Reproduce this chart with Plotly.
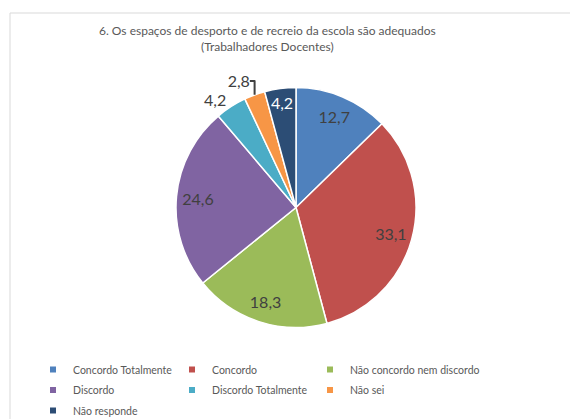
import plotly.graph_objects as go

categories = ["Concordo Totalmente", "Concordo", "Não concordo nem discordo",
              "Discordo", "Discordo Totalmente", "Não sei", "Não responde"]
values = [12.7, 33.1, 18.3, 24.6, 4.2, 2.8, 4.2]
colors = ["#4F81BD", "#C0504D", "#9BBB59", "#8064A2", "#4BACC6", "#F79646", "#2C4D75"]
text_positions = ["inside", "inside", "inside", "inside", "outside", "outside", "inside"]
text_colors = ["#404040", "#404040", "#404040", "#404040", "#404040", "#404040", "#FFFFFF"]

# page body keeps an 8px default margin, so the figure is drawn 8px in from the corner
OFF = 8
W, H = 578 - OFF, 419 - OFF
ML, MR = 27, 98
PW = W - ML - MR

def px_x(x):
    return (x - OFF - ML) / PW

def px_y(y):
    return (H - (y - OFF)) / H

pie_domain = dict(x=[px_x(176), px_x(416)], y=[px_y(327.5), px_y(87.5)])

fig = go.Figure()
# filled slices
fig.add_trace(go.Pie(
    labels=categories, values=values, sort=False, direction="clockwise", rotation=0,
    marker=dict(colors=colors, line=dict(color="white", width=1.5)),
    textinfo="none", showlegend=False, hoverinfo="label+value",
    domain=pie_domain,
))
# transparent overlay ring that carries the data labels (pushes them outward like Excel)
fig.add_trace(go.Pie(
    labels=categories, values=values, sort=False, direction="clockwise", rotation=0,
    hole=0.64,
    marker=dict(colors=["rgba(0,0,0,0)"] * len(values), line=dict(width=0)),
    texttemplate="%{value:.1f}", textposition=text_positions,
    insidetextorientation="horizontal",
    insidetextfont=dict(color=text_colors, size=16, family="Lato"),
    outsidetextfont=dict(color="#404040", size=16, family="Lato"),
    showlegend=False, hoverinfo="skip",
    domain=pie_domain,
))
legend_ids = ["legend", "legend2", "legend3"]
for i, (name, c) in enumerate(zip(categories, colors)):
    fig.add_trace(go.Scatter(x=[None], y=[None], mode="markers", name=name,
                             legend=legend_ids[i % 3], legendgroup=name,
                             marker=dict(symbol="square", size=6, color=c)))

legend_style = dict(orientation="v", xanchor="left", y=px_y(355), yanchor="top",
                    tracegroupgap=1.5, bgcolor="rgba(0,0,0,0)",
                    font=dict(size=10.5, color="#595959", family="Lato"))
col_left = [33, 172, 310]

fig.update_layout(
    width=W, height=H,
    margin=dict(l=ML, r=MR, t=0, b=0, autoexpand=False),
    paper_bgcolor="white", plot_bgcolor="white",
    separators=", ",
    font=dict(family="Lato", color="#595959"),
    xaxis=dict(visible=False), yaxis=dict(visible=False),
    uniformtext=dict(minsize=16, mode="show"),
    legend=dict(x=px_x(col_left[0]), **legend_style),
    legend2=dict(x=px_x(col_left[1]), **legend_style),
    legend3=dict(x=px_x(col_left[2]), **legend_style),
    annotations=[dict(
        text="6. Os espaços de desporto e de recreio da escola são adequados<br>(Trabalhadores Docentes)",
        xref="paper", yref="paper", x=px_x(267), y=px_y(38.5),
        xanchor="center", yanchor="middle", showarrow=False,
        font=dict(size=12, color="#595959", family="Lato"))],
    shapes=[dict(type="rect", xref="paper", yref="paper",
                 x0=px_x(10), x1=px_x(640), y0=px_y(470), y1=px_y(13),
                 line=dict(color="#D9D9D9", width=1), fillcolor="rgba(0,0,0,0)", layer="below")],
)

fig.write_html("out.html")
